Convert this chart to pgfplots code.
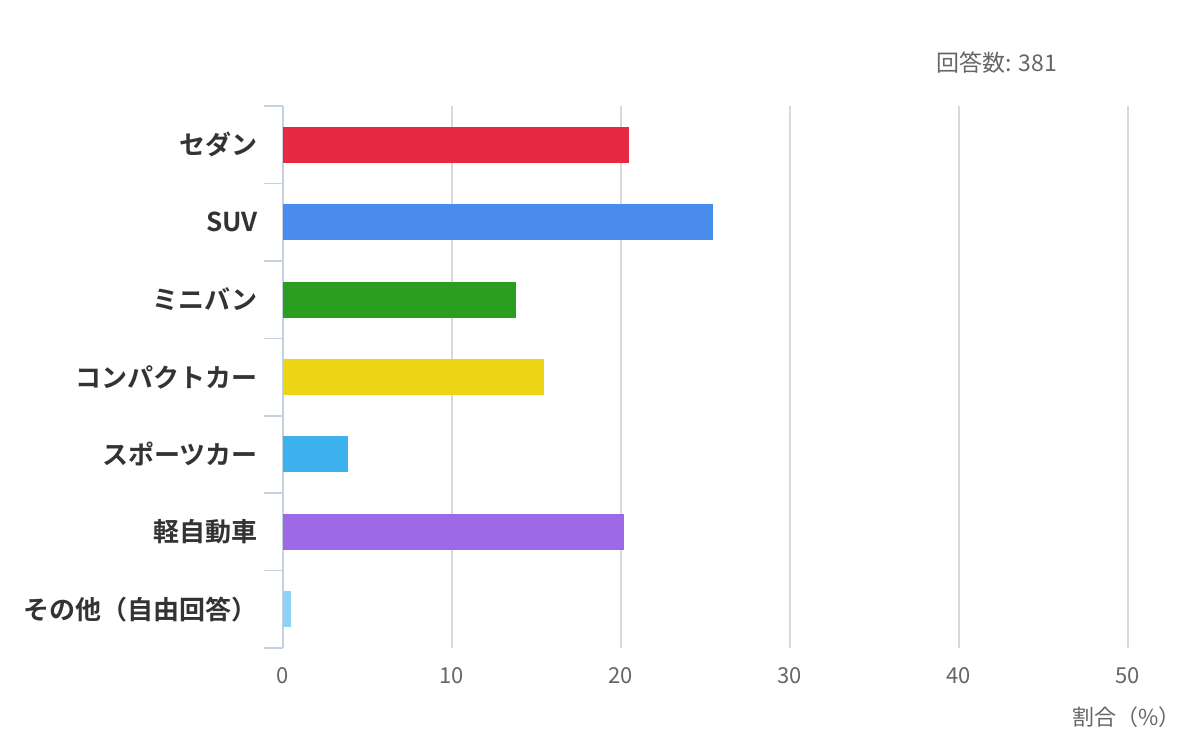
\documentclass[border=0pt]{standalone}
\usepackage{fontspec}
\setmainfont{Noto Sans CJK JP}[BoldFont={Noto Sans CJK JP Bold}]
\usepackage{pgfplots}
\pgfplotsset{compat=1.18}
\definecolor{cRed}{HTML}{E62940}
\definecolor{cBlue}{HTML}{4A8BEE}
\definecolor{cGreen}{HTML}{299E20}
\definecolor{cYellow}{HTML}{EDD415}
\definecolor{cSky}{HTML}{3DB1EE}
\definecolor{cPurple}{HTML}{9D69E6}
\definecolor{cPale}{HTML}{8ED2F6}
\definecolor{axcol}{HTML}{C3D1E0}
\definecolor{gridcol}{HTML}{D9D9D9}
\definecolor{txtgray}{HTML}{666666}
\definecolor{txtdark}{HTML}{333333}
\begin{document}
\begin{tikzpicture}
\path[use as bounding box] (-141.5pt,-48.5pt) rectangle (458.5pt,324pt);
\begin{axis}[
  scale only axis,
  width=422.5pt, height=271pt,
  xbar, bar width=18pt, bar shift=0pt,
  xmin=0, xmax=50,
  ymin=-0.5, ymax=6.5,
  y dir=reverse,
  axis y line*=left,
  axis x line*=bottom,
  x axis line style={draw=none},
  y axis line style={draw=axcol, line width=0.8pt},
  xtick={0,10,20,30,40,50},
  major tick length=0pt,
  xmajorgrids,
  grid style={draw=gridcol, line width=0.75pt},
  ytick={0,1,2,3,4,5,6},
  yticklabels={セダン,SUV,ミニバン,コンパクトカー,スポーツカー,軽自動車,その他（自由回答）},
  minor ytick={-0.5,0.5,1.5,2.5,3.5,4.5,5.5,6.5},
  minor tick length=9.5pt,
  tick align=outside,
  minor tick style={draw=axcol, line width=0.8pt},
  yticklabel style={font=\fontsize{13}{15}\selectfont\bfseries, text=txtdark, anchor=east, xshift=-9pt},
  xticklabel style={font=\fontsize{11}{13}\selectfont, text=txtgray, anchor=center, yshift=-14pt},
  /pgf/number format/assume math mode=true,
  clip=false,
]
\addplot[draw=none, fill=cRed] coordinates {(20.47,0)};
\addplot[draw=none, fill=cBlue] coordinates {(25.46,1)};
\addplot[draw=none, fill=cGreen] coordinates {(13.78,2)};
\addplot[draw=none, fill=cYellow] coordinates {(15.45,3)};
\addplot[draw=none, fill=cSky] coordinates {(3.83,4)};
\addplot[draw=none, fill=cPale!0!cPurple] coordinates {(20.15,5)};
\addplot[draw=none, fill=cPale] coordinates {(0.45,6)};
\node[font=\fontsize{11.5}{13}\selectfont, text=txtgray, anchor=center] at (rel axis cs:0.845,1.081) {回答数: 381};
\node[font=\fontsize{11}{13}\selectfont, text=txtgray, anchor=east] at (rel axis cs:1.071,-0.127) {割合（\%）};
\end{axis}
\end{tikzpicture}
\end{document}
